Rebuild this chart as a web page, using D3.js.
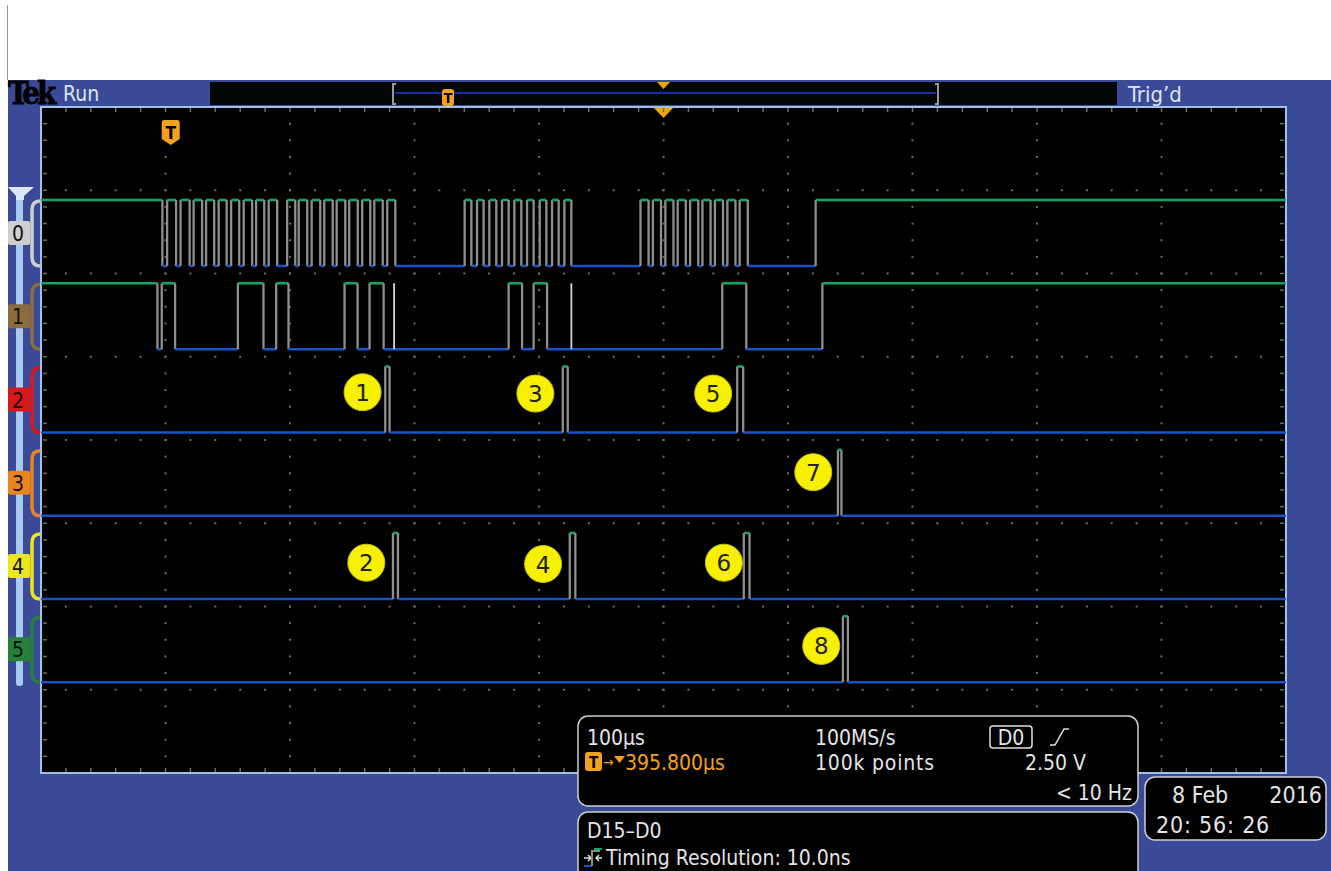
<!DOCTYPE html>
<html>
<head>
<meta charset="utf-8">
<script src="https://cdn.jsdelivr.net/npm/d3@7"></script>
<style>
body { margin: 0; background: #fff; }
svg { display: block; }
text { font-family: "DejaVu Sans Condensed", "DejaVu Sans", sans-serif; font-stretch: condensed; }
</style>
</head>
<body>
<div id="scope"></div>
<script>
// times in microseconds, 0 = trigger point (100us/div, 395.8us delay)
var timeDomain = [-104.2, 895.8];
var channelNames = ["0", "1", "2", "3", "4", "5"];
var channelColors = ["#cfcfcf", "#8c6c3c", "#d81818", "#ea841e", "#ece61c", "#25803a"];
var startLevels = [1, 1, 0, 0, 0, 0];

// edge times (level toggles)
var ch0Edges = [-6.7,
  -2.9, 4.3, 7.9, 15.2, 18.4, 25.2, 28.4, 34.9, 38.5, 44.9, 48.5, 55.0, 58.6, 65.4, 68.6, 75.1, 78.7, 85.5,
  93.5, 100.0, 102.8, 109.6, 113.2, 120.1, 123.3, 130.1, 133.3, 140.2, 143.4, 150.2, 153.8, 160.3, 163.5, 170.3, 173.9, 180.4,
  236.1, 241.5, 246.0, 251.3, 255.9, 261.5, 266.1, 271.4, 276.0, 281.6, 286.2, 291.5, 296.4, 301.7, 306.3, 311.6, 316.2, 321.8,
  377.3, 383.8, 387.3, 393.8, 397.3, 403.8, 407.2, 413.7, 417.2, 423.7, 427.1, 433.6, 437.1, 443.6, 447.1, 453.6, 457.0, 463.5,
  518.0];
var ch1Edges = [-10.7, -7.2, 3.5, 53.9, 74.5, 84.7, 94.6, 139.6, 150.1, 159.7, 171.0, 271.4, 282.2, 291.5, 302.3, 443.0, 462.3, 523.4];
var ch2Edges = [172.3, 175.8, 314.9, 318.9, 455.0, 459.8];
var ch3Edges = [535.9, 538.7];
var ch4Edges = [178.5, 182.5, 320.5, 325.0, 460.3, 464.9];
var ch5Edges = [539.9, 543.9];
var ch1Glitches = [179.4, 321.8];

// numbered callouts
var markerLabels = ["1", "2", "3", "4", "5", "6", "7", "8"];
var markerChannels = [2, 4, 2, 4, 2, 4, 3, 5];
var markerTimes = [154.1, 157.1, 292.9, 299.1, 435.7, 444.3, 516.1, 522.5];
var markerLevels = [0.61, 0.55, 0.59, 0.53, 0.59, 0.55, 0.66, 0.55];

var allEdges = [ch0Edges, ch1Edges, ch2Edges, ch3Edges, ch4Edges, ch5Edges];

var W = 1331, H = 871;
var screen = {left: 41, top: 107, right: 1286, bottom: 773};

var svg = d3.select("#scope").append("svg")
  .attr("width", W).attr("height", H);

// scales
var x = d3.scaleLinear().domain(timeDomain).range([screen.left, screen.right]);
var div = d3.scaleLinear().domain([0, 8]).range([screen.top, screen.bottom]);
function yLevel(ch, lvl) { return div(ch + 2) - 7.5 - lvl * 66; }

// frame
svg.append("line").attr("x1", 7.5).attr("x2", 7.5).attr("y1", 5).attr("y2", 80)
  .attr("stroke", "#999").attr("stroke-width", 1);
svg.append("rect").attr("x", 8).attr("y", 80).attr("width", W - 8).attr("height", H - 80)
  .attr("fill", "#3b4a97");
svg.append("rect").attr("x", screen.left).attr("y", screen.top)
  .attr("width", screen.right - screen.left).attr("height", screen.bottom - screen.top)
  .attr("fill", "#000").attr("stroke", "#9cc2ea").attr("stroke-width", 2);

// top status bar
svg.append("text").attr("x", 8).attr("y", 104).text("Tek")
  .style("font-family", "'DejaVu Serif', serif").style("font-weight", "bold")
  .style("font-size", "31px").style("letter-spacing", "-3px").attr("fill", "#000")
  .attr("stroke", "#000").attr("stroke-width", 0.8);
svg.append("text").attr("x", 63).attr("y", 101).text("Run")
  .style("font-size", "21px").attr("fill", "#dce4f4");
svg.append("text").attr("x", 1128).attr("y", 102).text("Trig\u2019d")
  .style("font-size", "22px").attr("fill", "#dce4f4");
svg.append("rect").attr("x", 210).attr("y", 82).attr("width", 907).attr("height", 23).attr("fill", "#020604");
svg.append("line").attr("x1", 395).attr("x2", 936).attr("y1", 93).attr("y2", 93)
  .attr("stroke", "#1a2aa8").attr("stroke-width", 2);
svg.append("path").attr("d", "M396,84 h-3 v20 h3").attr("fill", "none").attr("stroke", "#999").attr("stroke-width", 2);
svg.append("path").attr("d", "M935,84 h3 v20 h-3").attr("fill", "none").attr("stroke", "#999").attr("stroke-width", 2);
svg.append("rect").attr("x", 442).attr("y", 89).attr("width", 12).attr("height", 17).attr("rx", 3)
  .attr("fill", "#f3a21e");
svg.append("text").attr("x", 448).attr("y", 103).attr("text-anchor", "middle").text("T")
  .style("font-size", "14px").style("font-weight", "bold").attr("fill", "#000");
svg.append("path").attr("d", "M657,82 L670,82 L663.5,89 Z").attr("fill", "#f3a21e");
svg.append("path").attr("d", "M654,108 L673,108 L663.5,118 Z").attr("fill", "#f3a21e");

// graticule dots
var g = svg.append("g");
var dotColor = "#736c52";
var majorX = d3.range(1, 10).map(function(i) { return screen.left + i * (screen.right - screen.left) / 10; });
var minorX = d3.range(1, 50).map(function(i) { return screen.left + i * (screen.right - screen.left) / 50; });
var minorY = d3.range(1, 40).map(function(i) { return div(i / 5); });
majorX.forEach(function(mx) {
  minorY.forEach(function(my) {
    g.append("rect").attr("x", mx - 1).attr("y", my - 1).attr("width", 2).attr("height", 2).attr("fill", dotColor);
  });
});
d3.range(1, 8).forEach(function(j) {
  minorX.forEach(function(mx) {
    g.append("rect").attr("x", mx - 1).attr("y", div(j) - 1).attr("width", 2).attr("height", 2).attr("fill", dotColor);
  });
});
// edge ticks
minorX.forEach(function(mx) {
  g.append("rect").attr("x", mx - 0.75).attr("y", screen.top + 1).attr("width", 1.5).attr("height", 4).attr("fill", dotColor);
  g.append("rect").attr("x", mx - 0.75).attr("y", screen.bottom - 5).attr("width", 1.5).attr("height", 4).attr("fill", dotColor);
});
minorY.forEach(function(my) {
  g.append("rect").attr("x", screen.left + 2).attr("y", my - 0.75).attr("width", 4).attr("height", 1.5).attr("fill", dotColor);
  g.append("rect").attr("x", screen.right - 6).attr("y", my - 0.75).attr("width", 4).attr("height", 1.5).attr("fill", dotColor);
});

// trigger marker on screen
var tx = x(0);
svg.append("path")
  .attr("d", "M" + (tx - 9) + ",123 q0,-3 3,-3 h12 q3,0 3,3 v16 l-9,6 l-9,-6 Z")
  .attr("fill", "#f3a21e");
svg.append("text").attr("x", tx).attr("y", 139).attr("text-anchor", "middle").text("T")
  .style("font-size", "17px").style("font-weight", "bold").attr("fill", "#000");

// digital traces
var traces = svg.append("g");
allEdges.forEach(function(edges, ch) {
  var level = startLevels[ch];
  var t0 = timeDomain[0];
  var pts = edges.concat([timeDomain[1]]);
  pts.forEach(function(t, k) {
    traces.append("line")
      .attr("x1", x(t0)).attr("x2", x(t))
      .attr("y1", yLevel(ch, level)).attr("y2", yLevel(ch, level))
      .attr("stroke", level ? "#14a468" : "#1b52c8").attr("stroke-width", 2.6);
    if (k < edges.length) {
      traces.append("line")
        .attr("x1", x(t)).attr("x2", x(t))
        .attr("y1", yLevel(ch, 0)).attr("y2", yLevel(ch, 1))
        .attr("stroke", "#8e8e8e").attr("stroke-width", 2.3);
      level = 1 - level;
      t0 = t;
    }
  });
});
ch1Glitches.forEach(function(t) {
  traces.append("line").attr("x1", x(t)).attr("x2", x(t))
    .attr("y1", yLevel(1, 0)).attr("y2", yLevel(1, 1))
    .attr("stroke", "#d4d4d4").attr("stroke-width", 1.8);
});

// numbered callouts
markerLabels.forEach(function(lbl, i) {
  var cx = x(markerTimes[i]), cy = yLevel(markerChannels[i], markerLevels[i]);
  svg.append("circle").attr("cx", cx).attr("cy", cy).attr("r", 18.5)
    .attr("fill", "#f7f000").attr("stroke", "#c9c200").attr("stroke-width", 1);
  svg.append("text").attr("x", cx).attr("y", cy + 8.5).attr("text-anchor", "middle").text(lbl)
    .style("font-family", "'DejaVu Sans', sans-serif").style("font-stretch", "normal")
    .style("font-size", "23px").attr("fill", "#222");
});

// left channel rail
svg.append("rect").attr("x", 16).attr("y", 196).attr("width", 7).attr("height", 490).attr("rx", 3)
  .attr("fill", "#a9cbf2");
svg.append("path").attr("d", "M8,187 L34,187 L24,196 L24,200 L16,200 L16,196 Z").attr("fill", "#dbe6f6");
channelNames.forEach(function(name, ch) {
  var yHi = yLevel(ch, 1), yLo = yLevel(ch, 0), yMid = (yHi + yLo) / 2;
  svg.append("path")
    .attr("d", "M40," + (yHi + 1) + " q-8,0 -8,9 V" + (yLo - 9) + " q0,9 8,9")
    .attr("fill", "none").attr("stroke", channelColors[ch]).attr("stroke-width", 3.5);
  svg.append("rect").attr("x", 8).attr("y", yMid - 12).attr("width", 22).attr("height", 24).attr("rx", 2)
    .attr("fill", channelColors[ch]);
  svg.append("text").attr("x", 18).attr("y", yMid + 8).attr("text-anchor", "middle").text(name)
    .style("font-size", "21px").attr("fill", "#111");
});

// settings readout
var info = svg.append("g");
function box(bx, by, bw, bh) {
  info.append("rect").attr("x", bx).attr("y", by).attr("width", bw).attr("height", bh).attr("rx", 10)
    .attr("fill", "#000").attr("stroke", "#cfcfcf").attr("stroke-width", 1.5);
}
function label(lx, ly, str, anchor, color, size) {
  return info.append("text").attr("x", lx).attr("y", ly).attr("text-anchor", anchor || "start").text(str)
    .style("font-size", (size || 21) + "px").attr("fill", color || "#e4e4e4");
}
box(578, 716, 560, 90);
box(578, 812, 560, 70);
box(1145, 777, 181, 63);

label(587, 745, "100\u00b5s");
info.append("rect").attr("x", 585).attr("y", 752).attr("width", 17).attr("height", 19).attr("rx", 3).attr("fill", "#f3a21e");
label(593.5, 768, "T", "middle", "#000", 15).style("font-weight", "bold");
label(603, 767, "\u2192", "start", "#f3a21e", 14);
info.append("path").attr("d", "M614,756 L625,756 L619.5,763 Z").attr("fill", "#f3a21e");
label(625, 770, "395.800\u00b5s", "start", "#f3a21e");
label(815, 745, "100MS/s");
label(815, 770, "100k points").style("letter-spacing", "0.8px");
info.append("rect").attr("x", 990).attr("y", 726).attr("width", 42).attr("height", 22).attr("rx", 3)
  .attr("fill", "none").attr("stroke", "#e0e0e0").attr("stroke-width", 1.5);
label(1011, 745, "D0", "middle");
info.append("path").attr("d", "M1050,745 h5 l9,-16 h5").attr("fill", "none").attr("stroke", "#e0e0e0").attr("stroke-width", 1.5);
label(1086, 770, "2.50 V", "end");
label(1132, 800, "< 10 Hz", "end");
label(587, 838, "D15\u2013D0");
info.append("path").attr("d", "M584,858 h7 M588,855 l3,3 l-3,3").attr("fill", "none").attr("stroke", "#ddd").attr("stroke-width", 1.5);
info.append("path").attr("d", "M592,866 h-8").attr("stroke", "#1b52c8").attr("stroke-width", 2);
info.append("path").attr("d", "M592,866 v-15 h8").attr("fill", "none").attr("stroke", "#888").attr("stroke-width", 2);
info.append("path").attr("d", "M594,849 h8").attr("stroke", "#14a468").attr("stroke-width", 2);
info.append("path").attr("d", "M602,858 h-5 M599,855 l-3,3 l3,3").attr("fill", "none").attr("stroke", "#ddd").attr("stroke-width", 1.5);
label(606, 865, "Timing Resolution: 10.0ns");

label(1172, 803, "8 Feb", "start", "#e4e4e4", 23);
label(1322, 803, "2016", "end", "#e4e4e4", 23);
label(1156, 833, "20: 56: 26", "start", "#e4e4e4", 23).style("letter-spacing", "0.8px");
</script>
</body>
</html>
